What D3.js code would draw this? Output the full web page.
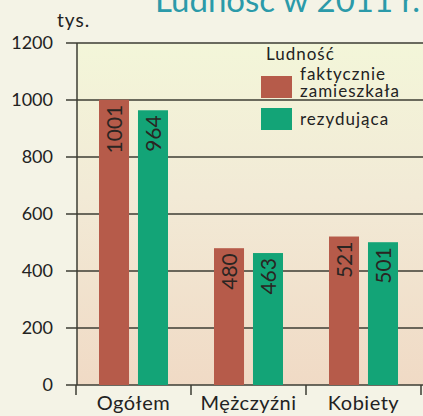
<!DOCTYPE html>
<html>
<head>
<meta charset="utf-8">
<script src="https://cdn.jsdelivr.net/npm/d3@7"></script>
<style>
  html, body { margin: 0; padding: 0; background: #f4f3e6; overflow: hidden; }
  svg { display: block; font-family: Lato, "Noto Sans", sans-serif; }
</style>
</head>
<body>
<div id="chart"></div>
<script>
const categories = ["Ogółem", "Mężczyźni", "Kobiety"];
const seriesNames = ["faktycznie zamieszkała", "rezydująca"];
const faktycznie = [1001, 480, 521];
const rezydujaca = [964, 463, 501];
const yTicks = [0, 200, 400, 600, 800, 1000, 1200];

const width = 423, height = 416;
const colors = ["#b65b4a", "#13a477"];

const svg = d3.select("#chart").append("svg")
  .attr("width", width)
  .attr("height", height);

const defs = svg.append("defs");
const grad = defs.append("linearGradient")
  .attr("id", "bg")
  .attr("x1", 0).attr("y1", 0).attr("x2", 0).attr("y2", 1);
grad.append("stop").attr("offset", "0%").attr("stop-color", "#f3f6d9");
grad.append("stop").attr("offset", "45%").attr("stop-color", "#f2ead6");
grad.append("stop").attr("offset", "100%").attr("stop-color", "#f0dac5");

const x = d3.scaleBand()
  .domain(categories)
  .range([76, 421]);

const xs = d3.scaleBand()
  .domain(seriesNames)
  .range([0, x.bandwidth()])
  .paddingInner(0.23)
  .paddingOuter(0.59);

const y = d3.scaleLinear()
  .domain([0, 1200])
  .range([385, 43]);

// title, cut off by the top edge
svg.append("text")
  .attr("x", 155)
  .attr("y", 12)
  .attr("fill", "#2b9aa9")
  .style("font-size", "33px")
  .text("Ludność w 2011 r.");

// plot background
svg.append("rect")
  .attr("x", 77)
  .attr("y", y(1200))
  .attr("width", width - 77)
  .attr("height", y(0) - y(1200))
  .attr("fill", "url(#bg)");

// grid lines
svg.append("g")
  .selectAll("line")
  .data(yTicks)
  .join("line")
  .attr("x1", 66)
  .attr("x2", width)
  .attr("y1", d => y(d))
  .attr("y2", d => y(d))
  .attr("stroke", "#3d3c33")
  .attr("stroke-width", 1.5);

// y tick labels
svg.append("g")
  .selectAll("text")
  .data(yTicks)
  .join("text")
  .attr("x", 53)
  .attr("y", d => y(d))
  .attr("dy", "0.36em")
  .attr("text-anchor", "end")
  .attr("fill", "#222")
  .style("font-size", "18px")
  .text(d => d);

svg.append("text")
  .attr("x", 57)
  .attr("y", 27)
  .attr("fill", "#222")
  .style("font-size", "19px")
  .style("letter-spacing", "1px")
  .text("tys.");

// bars
const rows = categories.map((c, i) => ({ cat: c, values: [faktycznie[i], rezydujaca[i]] }));

const groups = svg.append("g")
  .selectAll("g")
  .data(rows)
  .join("g")
  .attr("transform", d => `translate(${x(d.cat)},0)`);

const bars = groups.selectAll("g")
  .data(d => d.values.map((v, j) => ({ name: seriesNames[j], value: v, j })))
  .join("g");

bars.append("rect")
  .attr("x", d => xs(d.name))
  .attr("y", d => y(d.value))
  .attr("width", xs.bandwidth())
  .attr("height", d => y(0) - y(d.value))
  .attr("fill", d => colors[d.j]);

bars.append("text")
  .attr("transform", d => `translate(${xs(d.name) + xs.bandwidth() / 2},${y(d.value) + 5}) rotate(-90)`)
  .attr("text-anchor", "end")
  .attr("dy", "0.36em")
  .attr("fill", "#2a2522")
  .style("font-size", "21px")
  .text(d => d.value);

// axes lines
svg.append("line")
  .attr("x1", 77).attr("x2", 77)
  .attr("y1", y(1200)).attr("y2", y(0))
  .attr("stroke", "#3d3c33")
  .attr("stroke-width", 1.5);

svg.append("g")
  .selectAll("line")
  .data([76, ...categories.map(c => x(c) + x.bandwidth())])
  .join("line")
  .attr("x1", d => d).attr("x2", d => d)
  .attr("y1", y(0)).attr("y2", y(0) + 10)
  .attr("stroke", "#3d3c33")
  .attr("stroke-width", 1.5);

svg.append("g")
  .selectAll("text")
  .data(categories)
  .join("text")
  .attr("x", d => x(d) + x.bandwidth() / 2)
  .attr("y", 410)
  .attr("text-anchor", "middle")
  .attr("fill", "#222")
  .style("font-size", "20px")
  .style("letter-spacing", "0.5px")
  .text(d => d);

// legend
const legend = svg.append("g")
  .attr("fill", "#222")
  .style("font-size", "17px")
  .style("letter-spacing", "1px");

legend.append("text")
  .attr("x", 266)
  .attr("y", 60)
  .text("Ludność");

legend.append("rect")
  .attr("x", 261).attr("y", 76)
  .attr("width", 31).attr("height", 22)
  .attr("fill", colors[0]);
legend.append("text")
  .attr("x", 300).attr("y", 80)
  .text("faktycznie");
legend.append("text")
  .attr("x", 300).attr("y", 97)
  .text("zamieszkała");

legend.append("rect")
  .attr("x", 261).attr("y", 108)
  .attr("width", 31).attr("height", 22)
  .attr("fill", colors[1]);
legend.append("text")
  .attr("x", 300).attr("y", 125)
  .text("rezydująca");
</script>
</body>
</html>
